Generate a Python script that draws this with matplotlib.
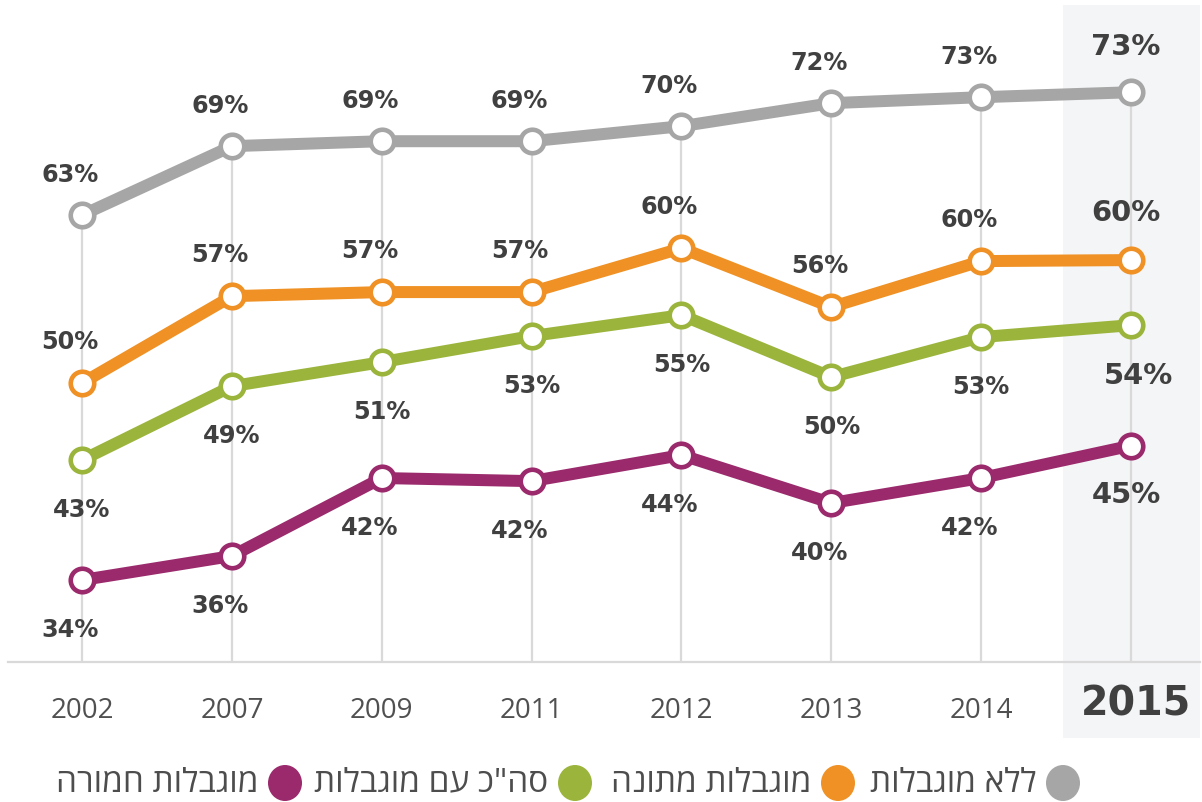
import matplotlib
matplotlib.use("Agg")
import matplotlib.pyplot as plt
from matplotlib.patches import Rectangle, Ellipse
from matplotlib.transforms import ScaledTranslation

years = ["2002", "2007", "2009", "2011", "2012", "2013", "2014", "2015"]
no_disability = [63.15, 68.71, 69.11, 69.11, 70.32, 72.18, 72.66, 73.06]
moderate = [49.60, 56.61, 56.94, 56.94, 60.48, 55.73, 59.44, 59.52]
total_disability = [43.39, 49.35, 51.29, 53.39, 55.08, 50.08, 53.31, 54.27]
severe = [33.71, 35.65, 41.94, 41.69, 43.79, 39.92, 41.94, 44.55]

labels_no = ["63%", "69%", "69%", "69%", "70%", "72%", "73%", "73%"]
labels_mod = ["50%", "57%", "57%", "57%", "60%", "56%", "60%", "60%"]
labels_tot = ["43%", "49%", "51%", "53%", "55%", "50%", "53%", "54%"]
labels_sev = ["34%", "36%", "42%", "42%", "44%", "40%", "42%", "45%"]

legend_names = ["ללא מוגבלות", "מוגבלות מתונה", "סה\"כ עם מוגבלות", "מוגבלות חמורה"]

GREY = "#a5a6a5"
ORANGE = "#ef9124"
GREEN = "#9bb53c"
PURPLE = "#9a2a6c"
TXT = "#404040"
FAM = ["Open Sans", "DejaVu Sans"]
plt.rcParams["font.family"] = FAM

W, H = 1202, 802
PX = 0.72  # points per pixel at 100 dpi
fig = plt.figure(figsize=(W / 100, H / 100), dpi=100)

ax = fig.add_axes([8 / W, (H - 662) / H, 1192 / W, 662 / H])
ax.set_facecolor("none")

# highlighted band for latest year
ax.add_patch(Rectangle((1063 / W, (H - 738) / H), 137 / W, 733 / H,
                       transform=fig.transFigure, facecolor="#f4f5f7",
                       edgecolor="none", zorder=0, clip_on=False))

x = list(range(len(years)))
ax.set_xlim(-0.494, 7.46)
ax.set_ylim(27.1, 80.5)

ax.vlines(x, 27.1, no_disability, color="#d9d9d9", lw=1.6, zorder=1)

# (values, colour, labels, (dx, dy) px for regular points, (dx, dy) px for last point)
series = [
    (no_disability, GREY, labels_no, (-12, 33), (-5, 37)),
    (moderate, ORANGE, labels_mod, (-12, 34), (-5, 39)),
    (total_disability, GREEN, labels_tot, (0, -57), (7, -59)),
    (severe, PURPLE, labels_sev, (-12, -57), (-5, -57)),
]
for i, (vals, col, labs, off, off_last) in enumerate(series):
    ax.plot(x, vals, color=col, lw=12 * PX, solid_capstyle="round", zorder=2 + i)
    ax.plot(x, vals, ls="none", marker="o", ms=23.5 * PX, mfc="white", mec=col,
            mew=4.6 * PX, zorder=6 + i)
    for j, (xv, yv, lab) in enumerate(zip(x, vals, labs)):
        big = j == len(x) - 1
        dx, dy = off_last if big else off
        ax.annotate(lab, (xv, yv), xytext=(dx * PX, dy * PX),
                    textcoords="offset points", ha="center", va="baseline",
                    color=TXT, fontweight="bold", family="DejaVu Sans",
                    fontsize=20.9 if big else 17.3, zorder=20)

for s in ["top", "left", "right"]:
    ax.spines[s].set_visible(False)
ax.spines["bottom"].set_color("#d9d9d9")
ax.spines["bottom"].set_linewidth(1.6)
ax.set_yticks([])
ax.set_xticks(x)
ax.set_xticklabels(years)
ax.tick_params(axis="x", length=0, pad=25, labelsize=20, labelcolor="#505050")
tl = ax.get_xticklabels()
tl[-1].set_fontsize(28.5)
tl[-1].set_fontweight("bold")
tl[-1].set_family("DejaVu Sans")
tl[-1].set_color(TXT)
tl[-1].set_transform(tl[-1].get_transform() +
                     ScaledTranslation(5 / 100, 12 / 100, fig.dpi_scale_trans))

# legend (right-to-left)
leg_colors = [GREY, ORANGE, GREEN, PURPLE]
leg_cx = [1063, 838, 575, 285]
ly = (H - 783) / H
for name, col, cx in zip(legend_names, leg_colors, leg_cx):
    fig.patches.append(Ellipse((cx / W, ly), 34 / W, 36 / H,
                               transform=fig.transFigure,
                               facecolor=col, edgecolor="none"))
    fig.text((cx - 27) / W, ly, name[::-1], ha="right", va="center",
             fontsize=24, color="#4d4d4d", family=FAM)

fig.savefig("out.png", dpi=100)
